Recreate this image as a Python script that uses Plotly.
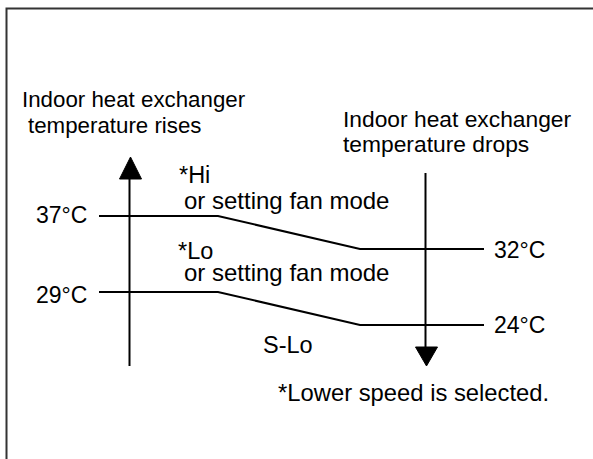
import plotly.graph_objects as go

# ---- content ----
rise_temps = [37, 29]          # thresholds while heat-exchanger temperature rises
drop_temps = [32, 24]          # thresholds while heat-exchanger temperature drops
zone_labels = ["*Hi", "*Lo", "S-Lo"]
zone_sub = "or setting fan mode"
rise_caption = ["Indoor heat exchanger", "temperature rises"]
drop_caption = ["Indoor heat exchanger", "temperature drops"]
footnote = "*Lower speed is selected."
title_text = "Heating control during operation"

# ---- layout geometry (pixels, y downwards) ----
W, H = 593, 459
FONT = "Liberation Sans, Arial, Helvetica, sans-serif"
FS = 23
left_levels = [216, 292]
right_levels = [249, 325]
x_pts = [99, 218, 360, 484]

fig = go.Figure()

# threshold lines
for i in range(len(rise_temps)):
    fig.add_trace(go.Scatter(
        x=x_pts,
        y=[left_levels[i], left_levels[i], right_levels[i], right_levels[i]],
        mode="lines", line=dict(color="black", width=2),
        hoverinfo="skip", showlegend=False))

# up arrow (left)
fig.add_trace(go.Scatter(x=[129.5, 129.5], y=[366, 178], mode="lines",
                         line=dict(color="black", width=2), hoverinfo="skip", showlegend=False))
fig.add_trace(go.Scatter(x=[119.5, 130.5, 141.5, 119.5], y=[179, 157, 179, 179], mode="lines",
                         fill="toself", fillcolor="black", line=dict(color="black", width=1),
                         hoverinfo="skip", showlegend=False))
# down arrow (right)
fig.add_trace(go.Scatter(x=[425.5, 425.5], y=[173, 348], mode="lines",
                         line=dict(color="black", width=2), hoverinfo="skip", showlegend=False))
fig.add_trace(go.Scatter(x=[415.5, 426.5, 437.5, 415.5], y=[347, 366, 347, 347], mode="lines",
                         fill="toself", fillcolor="black", line=dict(color="black", width=1),
                         hoverinfo="skip", showlegend=False))

ann = []
def txt(x, y, s, size=FS, bold=False, ref="data"):
    d = dict(x=x, y=y, text=("<b>%s</b>" % s) if bold else s, showarrow=False,
             xanchor="left", yanchor="middle", borderpad=0,
             font=dict(family=FONT, size=size, color="black"))
    if ref == "paper":
        d.update(xref="paper", yref="paper", x=x / W, y=1 - y / H)
    else:
        d.update(xref="x", yref="y")
    ann.append(d)

# clipped title at very top (only descenders visible, as in the reference)
txt(8, -11.3, title_text, size=21, bold=True, ref="paper")

txt(21, 99, rise_caption[0], size=22.3)
txt(27, 125, rise_caption[1], size=22.3)
txt(342, 118.5, drop_caption[0], size=22.8)
txt(342, 144, drop_caption[1], size=22.8)

txt(178, 174.5, zone_labels[0], size=23.5)
txt(183, 200, zone_sub, size=24)
txt(177, 251, zone_labels[1], size=23.5)
txt(183, 272, zone_sub, size=24)
txt(262, 345, zone_labels[2], size=23.5)

txt(35, 215, "%d°C" % rise_temps[0])
txt(35, 295, "%d°C" % rise_temps[1])
txt(493, 250, "%d°C" % drop_temps[0])
txt(493, 325, "%d°C" % drop_temps[1])

txt(277, 392, footnote, size=23.8)

fig.update_layout(
    width=W, height=H, margin=dict(l=0, r=0, t=0, b=0),
    paper_bgcolor="white", plot_bgcolor="white",
    xaxis=dict(range=[0, W], visible=False, fixedrange=True),
    yaxis=dict(range=[H, 0], visible=False, fixedrange=True),
    annotations=ann,
    shapes=[dict(type="rect", xref="x", yref="y", x0=6.5, y0=8.5, x1=W + 20, y1=H + 20,
                 line=dict(color="#333333", width=2), fillcolor="rgba(0,0,0,0)")],
    showlegend=False,
)

fig.write_html("out.html", config={"displayModeBar": False},
               post_script="document.body.style.margin='0';document.body.style.overflow='hidden';")
